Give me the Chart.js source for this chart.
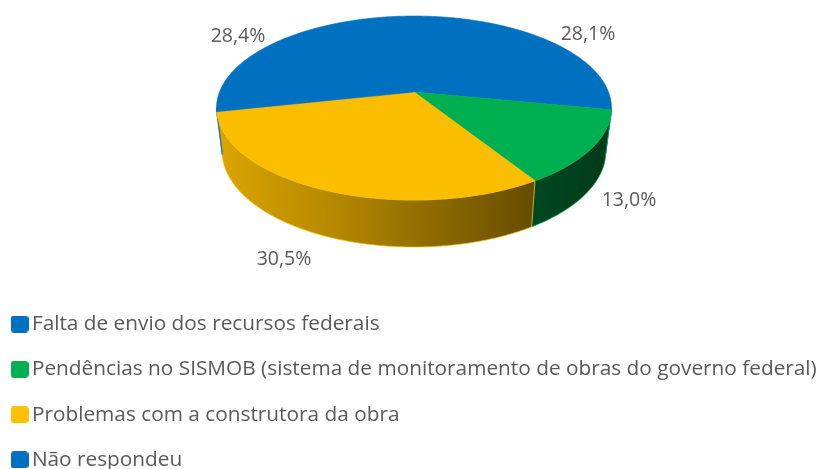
<!DOCTYPE html>
<html>
<head>
<meta charset="utf-8">
<style>html,body{margin:0;padding:0;background:#fff}canvas{display:block}</style>
<script src="https://cdn.jsdelivr.net/npm/chart.js@4"></script>
</head>
<body>
<canvas id="c" width="825" height="469"></canvas>
<script>
const categories = [
  "Falta de envio dos recursos federais",
  "Pendências no SISMOB (sistema de monitoramento de obras do governo federal)",
  "Problemas com a construtora da obra",
  "Não respondeu"
];
const values = [28.1, 13.0, 30.5, 28.4];
const colors = ["#0070C0", "#00B050", "#FFC000", "#0070C0"];
const sliceColors = ["#0070C0", "#00AF50", "#FABD00", "#0070C0"];

const FONT = '"Open Sans", "Noto Sans", sans-serif';
const TEXT = "#595959";

// perspective projection of the pie disc
const K = 0.174;
const TOP_FACE = {cx: 414, cy: 92, a: 194.5, b: 89.2};
const BOTTOM_FACE = {cx: 414, cy: 134.3, a: 189, b: 93.1};
function project(face, t) {
  const u = Math.cos(t), v = Math.sin(t), w = 1 - K * v;
  return [face.cx + face.a * u / w, face.cy + face.b * v / w];
}
function traceEdge(ctx, face, t0, t1, first) {
  const n = Math.max(2, Math.ceil(Math.abs(t1 - t0) / 0.01));
  for (let i = 0; i <= n; i++) {
    const p = project(face, t0 + (t1 - t0) * i / n);
    if (i === 0 && first) ctx.moveTo(p[0], p[1]); else ctx.lineTo(p[0], p[1]);
  }
}
function shade(hex, f) {
  const n = parseInt(hex.slice(1), 16);
  return `rgb(${Math.round((n >> 16 & 255) * f)},${Math.round((n >> 8 & 255) * f)},${Math.round((n & 255) * f)})`;
}

// every slice is drawn from the angles computed by the pie controller
Chart.ArcElement.prototype.draw = function (ctx) {
  const o = this.options;
  ctx.save();
  ctx.beginPath();
  ctx.moveTo(TOP_FACE.cx, TOP_FACE.cy);
  traceEdge(ctx, TOP_FACE, this.startAngle, this.endAngle, false);
  ctx.closePath();
  ctx.fillStyle = o.backgroundColor;
  ctx.strokeStyle = o.backgroundColor;
  ctx.lineWidth = 0.6;
  ctx.fill();
  ctx.stroke();
  ctx.restore();
};

const VIS_START = 10 * Math.PI / 180, VIS_END = 170 * Math.PI / 180;
const rimPlugin = {
  id: "rim",
  beforeDatasetsDraw(chart) {
    const ctx = chart.ctx;
    const arcs = chart.getDatasetMeta(0).data;
    arcs.forEach((arc, i) => {
      const t0 = Math.max(arc.startAngle, VIS_START);
      const t1 = Math.min(arc.endAngle, VIS_END);
      if (t1 <= t0) return;
      const base = sliceColors[i];
      const g = ctx.createLinearGradient(216, 0, 611, 0);
      g.addColorStop(0, shade(base, 0.88));
      g.addColorStop(0.3, shade(base, 0.72));
      g.addColorStop(0.8, shade(base, 0.41));
      g.addColorStop(1, shade(base, 0.33));
      ctx.save();
      ctx.beginPath();
      traceEdge(ctx, TOP_FACE, t0, t1, true);
      traceEdge(ctx, BOTTOM_FACE, t1, t0, false);
      ctx.closePath();
      ctx.fillStyle = g;
      ctx.fill();
      ctx.strokeStyle = base;
      ctx.lineWidth = 0.7;
      ctx.stroke();
      ctx.restore();
    });
  }
};

// percentage labels placed beside each slice
const LABEL_CENTER = [[588, 34], [629, 200], [284, 259], [238, 36]];
const labelPlugin = {
  id: "pct",
  afterDatasetsDraw(chart) {
    const ctx = chart.ctx;
    ctx.save();
    ctx.font = "19.5px " + FONT;
    ctx.fillStyle = TEXT;
    ctx.textAlign = "center";
    ctx.textBaseline = "middle";
    values.forEach((v, i) => {
      ctx.fillText(v.toFixed(1).replace(".", ",") + "%", LABEL_CENTER[i][0], LABEL_CENTER[i][1]);
    });
    ctx.restore();
  }
};

function swatch(color) {
  const s = document.createElement("canvas");
  s.width = 18; s.height = 17;
  const x = s.getContext("2d");
  x.fillStyle = color;
  x.beginPath();
  x.roundRect(0, 0, 18, 17, 3.5);
  x.fill();
  return s;
}
const swatches = colors.map(swatch);

new Chart(document.getElementById("c"), {
  type: "pie",
  data: {
    labels: categories,
    datasets: [{data: values, backgroundColor: sliceColors, borderWidth: 0}]
  },
  options: {
    responsive: false,
    animation: false,
    layout: {padding: {left: -7, top: 289.1, bottom: -200}},
    plugins: {
      tooltip: {enabled: false},
      legend: {
        position: "left",
        align: "start",
        maxWidth: 900,
        labels: {
          usePointStyle: true,
          pointStyleWidth: 4,
          padding: 24.5,
          color: TEXT,
          font: {family: FONT, size: 20.8},
          generateLabels(chart) {
            return Chart.overrides.pie.plugins.legend.labels.generateLabels(chart)
              .map((it, i) => Object.assign(it, {pointStyle: swatches[i]}));
          }
        }
      }
    }
  },
  plugins: [rimPlugin, labelPlugin]
});
</script>
</body>
</html>
